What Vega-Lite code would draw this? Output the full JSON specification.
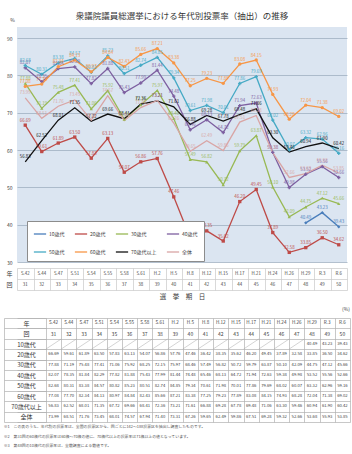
{
  "$schema": "https://vega.github.io/schema/vega-lite/v6.json",
  "padding": {"left": 3, "top": 11, "right": 2, "bottom": 2},
  "background": "white",
  "config": {
    "font": "Noto Sans CJK JP",
    "view": {"stroke": null},
    "axis": {"labelFont": "Noto Sans CJK JP", "titleFont": "Noto Sans CJK JP", "labelColor": "#404040", "titleColor": "#404040", "titleFontWeight": "normal"},
    "title": {"font": "Noto Sans CJK JP", "fontWeight": "normal", "color": "#333333"}
  },
  "datasets": {
    "votes": [
      {"年": "S.42", "回": 31, "10歳代": null, "20歳代": 66.69, "30歳代": 77.88, "40歳代": 82.07, "50歳代": 82.68, "60歳代": 77.08, "70歳代以上": 56.83, "全体": 73.99},
      {"年": "S.44", "回": 32, "10歳代": null, "20歳代": 59.61, "30歳代": 71.19, "40歳代": 78.35, "50歳代": 80.31, "60歳代": 77.70, "70歳代以上": 62.52, "全体": 68.51},
      {"年": "S.47", "回": 33, "10歳代": null, "20歳代": 61.89, "30歳代": 75.48, "40歳代": 81.84, "50歳代": 83.38, "60歳代": 82.34, "70歳代以上": 68.01, "全体": 71.76},
      {"年": "S.51", "回": 34, "10歳代": null, "20歳代": 63.50, "30歳代": 77.41, "40歳代": 82.29, "50歳代": 84.57, "60歳代": 84.13, "70歳代以上": 71.35, "全体": 73.45},
      {"年": "S.54", "回": 35, "10歳代": null, "20歳代": 57.83, "30歳代": 71.06, "40歳代": 77.82, "50歳代": 80.82, "60歳代": 80.97, "70歳代以上": 67.72, "全体": 68.01},
      {"年": "S.55", "回": 36, "10歳代": null, "20歳代": 63.13, "30歳代": 75.92, "40歳代": 81.88, "50歳代": 85.23, "60歳代": 84.84, "70歳代以上": 69.66, "全体": 74.57},
      {"年": "S.58", "回": 37, "10歳代": null, "20歳代": 54.07, "30歳代": 68.25, "40歳代": 75.43, "50歳代": 80.51, "60歳代": 82.43, "70歳代以上": 68.41, "全体": 67.94},
      {"年": "S.61", "回": 38, "10歳代": null, "20歳代": 56.86, "30歳代": 72.15, "40歳代": 77.99, "50歳代": 82.74, "60歳代": 85.66, "70歳代以上": 72.36, "全体": 71.40},
      {"年": "H.2", "回": 39, "10歳代": null, "20歳代": 57.76, "30歳代": 75.97, "40歳代": 81.44, "50歳代": 84.85, "60歳代": 87.21, "70歳代以上": 73.21, "全体": 73.31},
      {"年": "H.5", "回": 40, "10歳代": null, "20歳代": 47.46, "30歳代": 68.46, "40歳代": 74.48, "50歳代": 79.34, "60歳代": 83.38, "70歳代以上": 71.61, "全体": 67.26},
      {"年": "H.8", "回": 41, "10歳代": null, "20歳代": 36.42, "30歳代": 57.49, "40歳代": 65.46, "50歳代": 70.61, "60歳代": 77.25, "70歳代以上": 66.88, "全体": 59.65},
      {"年": "H.12", "回": 42, "10歳代": null, "20歳代": 38.35, "30歳代": 56.82, "40歳代": 68.13, "50歳代": 71.98, "60歳代": 79.23, "70歳代以上": 69.28, "全体": 62.49},
      {"年": "H.15", "回": 43, "10歳代": null, "20歳代": 35.62, "30歳代": 50.72, "40歳代": 64.72, "50歳代": 70.01, "60歳代": 77.89, "70歳代以上": 67.78, "全体": 59.86},
      {"年": "H.17", "回": 44, "10歳代": null, "20歳代": 46.20, "30歳代": 59.79, "40歳代": 71.94, "50歳代": 77.86, "60歳代": 83.08, "70歳代以上": 69.48, "全体": 67.51},
      {"年": "H.21", "回": 45, "10歳代": null, "20歳代": 49.45, "30歳代": 63.87, "40歳代": 72.63, "50歳代": 79.69, "60歳代": 84.15, "70歳代以上": 71.06, "全体": 69.28},
      {"年": "H.24", "回": 46, "10歳代": null, "20歳代": 37.89, "30歳代": 50.10, "40歳代": 59.38, "50歳代": 68.02, "60歳代": 74.93, "70歳代以上": 63.30, "全体": 59.32},
      {"年": "H.26", "回": 47, "10歳代": null, "20歳代": 32.58, "30歳代": 42.09, "40歳代": 49.98, "50歳代": 60.07, "60歳代": 68.28, "70歳代以上": 59.46, "全体": 52.66},
      {"年": "H.29", "回": 48, "10歳代": 40.49, "20歳代": 33.85, "30歳代": 44.75, "40歳代": 53.52, "50歳代": 63.32, "60歳代": 72.04, "70歳代以上": 60.94, "全体": 53.68},
      {"年": "R.3", "回": 49, "10歳代": 43.23, "20歳代": 36.50, "30歳代": 47.12, "40歳代": 55.56, "50歳代": 62.96, "60歳代": 71.38, "70歳代以上": 61.90, "全体": 55.93},
      {"年": "R.6", "回": 50, "10歳代": 39.43, "20歳代": 34.62, "30歳代": 45.66, "40歳代": 52.66, "50歳代": 59.16, "60歳代": 69.02, "70歳代以上": 60.42, "全体": 53.85}
    ]
  },
  "title": {
    "text": [
      "※1　この表のうち、年代別の投票率は、全国の投票区から、回ごとに142～188投票区を抽出し調査したものです。",
      "※2　第31回の60歳代の投票率は60歳～70歳の値に、70歳代以上の投票率は71歳以上の値となっています。",
      "※3　第48回の10歳代の投票率は、全数調査による数値です。"
    ],
    "orient": "bottom", "anchor": "start", "fontSize": 3.9, "lineHeight": 9.3, "color": "#555555", "offset": 3
  },
  "spacing": 7,
  "vconcat": [
    {
      "spacing": 0,
      "vconcat": [
        {
          "width": 330,
          "height": 235,
          "title": {"text": "衆議院議員総選挙における年代別投票率（抽出）の推移", "fontSize": 8.5, "offset": -3, "anchor": "middle", "color": "#333333"},
          "view": {"fill": "#dbe5f1", "stroke": null},
          "data": {"name": "votes"},
          "transform": [
            {"fold": ["10歳代", "20歳代", "30歳代", "40歳代", "50歳代", "60歳代", "70歳代以上", "全体"], "as": ["区分", "値"]},
            {"filter": "isValid(datum['値'])"}
          ],
          "encoding": {
            "x": {"field": "年", "type": "ordinal", "bandPosition": 0.5,
              "scale": {"type": "band", "domain": ["S.42","S.44","S.47","S.51","S.54","S.55","S.58","S.61","H.2","H.5","H.8","H.12","H.15","H.17","H.21","H.24","H.26","H.29","R.3","R.6"], "paddingInner": 0, "paddingOuter": 0},
              "axis": null},
            "y": {"field": "値", "type": "quantitative",
              "scale": {"domain": [30, 93], "nice": false, "zero": false},
              "axis": {"values": [30, 40, 50, 60, 70, 80, 90], "title": "%", "titleAngle": 0, "titleX": -5, "titleY": -8, "titleBaseline": "middle", "titleFontSize": 5, "titleAlign": "center", "labelFontSize": 5, "ticks": false, "domain": false, "labelPadding": 5, "gridColor": "#9fb0c2", "gridWidth": 0.8}},
            "color": {"field": "区分", "type": "nominal",
              "scale": {"domain": ["10歳代", "20歳代", "30歳代", "40歳代", "50歳代", "60歳代", "70歳代以上", "全体"], "range": ["#4a7ebb", "#be4b48", "#98b954", "#7d5fa0", "#46aac5", "#f79646", "#111111", "#d9a5a5"]},
              "legend": null}
          },
          "layer": [
            {
              "mark": {"type": "line"},
              "encoding": {
                "color": {"field": "区分", "type": "nominal",
                  "legend": {"orient": "none", "direction": "horizontal", "legendX": 10, "legendY": 194, "columns": 4, "title": null, "fillColor": "white", "strokeColor": "#8c8c8c", "padding": 6, "symbolType": "stroke", "symbolSize": 150, "symbolStrokeWidth": 1.5, "labelFontSize": 5, "labelFont": "Noto Sans CJK JP", "labelColor": "#404040", "columnPadding": 7, "rowPadding": 8, "labelOffset": 2}},
                "strokeWidth": {"field": "区分", "type": "nominal", "scale": {"domain": ["10歳代", "20歳代", "30歳代", "40歳代", "50歳代", "60歳代", "70歳代以上", "全体"], "range": [1.3, 1.3, 1.3, 1.3, 1.3, 1.3, 2, 1.3]}, "legend": null}
              }
            },
            {
              "transform": [{"filter": {"field": "区分", "oneOf": ["10歳代", "20歳代", "30歳代", "40歳代", "50歳代", "60歳代"]}}],
              "mark": {"type": "point", "filled": true, "opacity": 1, "size": 11},
              "encoding": {
                "shape": {"field": "区分", "type": "nominal", "scale": {"domain": ["10歳代", "20歳代", "30歳代", "40歳代", "50歳代", "60歳代"], "range": ["diamond", "square", "triangle-up", "cross", "cross", "circle"]}, "legend": null}
              }
            },
            {
              "mark": {"type": "text", "fontSize": 4.4, "dy": -4.5},
              "encoding": {"text": {"field": "値", "type": "quantitative", "format": ".2f"}}
            }
          ]
        },
        {
          "width": 330,
          "height": 22,
          "data": {"name": "votes"},
          "encoding": {
            "x": {"field": "年", "type": "ordinal", "bandPosition": 0.5,
              "scale": {"type": "band", "domain": ["S.42","S.44","S.47","S.51","S.54","S.55","S.58","S.61","H.2","H.5","H.8","H.12","H.15","H.17","H.21","H.24","H.26","H.29","R.3","R.6"], "paddingInner": 0, "paddingOuter": 0},
              "axis": {"orient": "bottom", "labels": false, "ticks": false, "domain": false, "grid": true, "tickBand": "extent", "gridColor": "#c8c8c8", "gridWidth": 0.7, "title": "選　挙　期　日", "titleFontSize": 6.5, "titlePadding": 3}}
          },
          "layer": [
            {
              "mark": {"type": "text", "fontSize": 4.4, "color": "#404040"},
              "encoding": {
                "y": {"datum": "年", "type": "nominal", "bandPosition": 0.5,
                  "scale": {"type": "band", "domain": ["年", "回"], "paddingInner": 0, "paddingOuter": 0},
                  "axis": {"title": null, "labelFontSize": 6, "ticks": false, "domain": false, "grid": true, "tickBand": "extent", "gridColor": "#c8c8c8", "gridWidth": 0.7, "labelPadding": 5}},
                "text": {"field": "年", "type": "nominal"}
              }
            },
            {
              "mark": {"type": "text", "fontSize": 4.4, "color": "#404040"},
              "encoding": {
                "y": {"datum": "回", "type": "nominal", "bandPosition": 0.5},
                "text": {"field": "回", "type": "nominal"}
              }
            }
          ]
        }
      ]
    },
    {
      "width": 333,
      "height": 104,
      "title": {"text": "(%)", "anchor": "end", "fontSize": 5, "offset": 3, "color": "#404040"},
      "data": {"name": "votes"},
      "encoding": {
        "x": {"field": "年", "type": "ordinal", "bandPosition": 0.5,
          "scale": {"type": "band", "domain": ["S.42","S.44","S.47","S.51","S.54","S.55","S.58","S.61","H.2","H.5","H.8","H.12","H.15","H.17","H.21","H.24","H.26","H.29","R.3","R.6"], "paddingInner": 0, "paddingOuter": 0.954, "align": 1},
          "axis": {"orient": "top", "labels": false, "ticks": false, "domain": false, "grid": true, "tickBand": "extent", "gridColor": "#b0b0b0", "gridWidth": 0.7, "title": null}}
      },
      "layer": [
        {
          "transform": [
            {"fold": ["10歳代", "20歳代", "30歳代", "40歳代", "50歳代", "60歳代", "70歳代以上", "全体"], "as": ["区分", "値"]},
            {"filter": "isValid(datum['値'])"}
          ],
          "mark": {"type": "text", "fontSize": 4.2, "color": "#404040"},
          "encoding": {
            "y": {"field": "区分", "type": "nominal", "bandPosition": 0.5,
              "scale": {"type": "band", "domain": ["年", "回", "10歳代", "20歳代", "30歳代", "40歳代", "50歳代", "60歳代", "70歳代以上", "全体"], "paddingInner": 0, "paddingOuter": 0},
              "axis": {"orient": "left", "offset": 13, "title": null, "domain": true, "domainColor": "#b0b0b0", "domainWidth": 0.7, "ticks": true, "tickSize": -42, "tickBand": "extent", "tickColor": "#b0b0b0", "tickWidth": 0.7, "labelAlign": "center", "labelPadding": 20, "labelFontSize": 6, "labelColor": "#333333", "grid": true, "gridColor": "#b0b0b0", "gridWidth": 0.7}},
            "text": {"field": "値", "type": "quantitative", "format": ".2f"}
          }
        },
        {
          "mark": {"type": "text", "fontSize": 4.6, "color": "#404040"},
          "encoding": {
            "y": {"datum": "年", "type": "nominal", "bandPosition": 0.5},
            "text": {"field": "年", "type": "nominal"}
          }
        },
        {
          "mark": {"type": "text", "fontSize": 5, "color": "#404040"},
          "encoding": {
            "y": {"datum": "回", "type": "nominal", "bandPosition": 0.5},
            "text": {"field": "回", "type": "nominal"}
          }
        },
        {
          "transform": [{"filter": "datum['回'] < 48"}],
          "mark": {"type": "point", "shape": "M-1,0.66L1,-0.66", "size": 231, "filled": false, "strokeWidth": 0.5, "color": "#a8a8a8", "opacity": 1},
          "encoding": {
            "y": {"datum": "10歳代", "type": "nominal", "bandPosition": 0.5}
          }
        }
      ]
    }
  ]
}
